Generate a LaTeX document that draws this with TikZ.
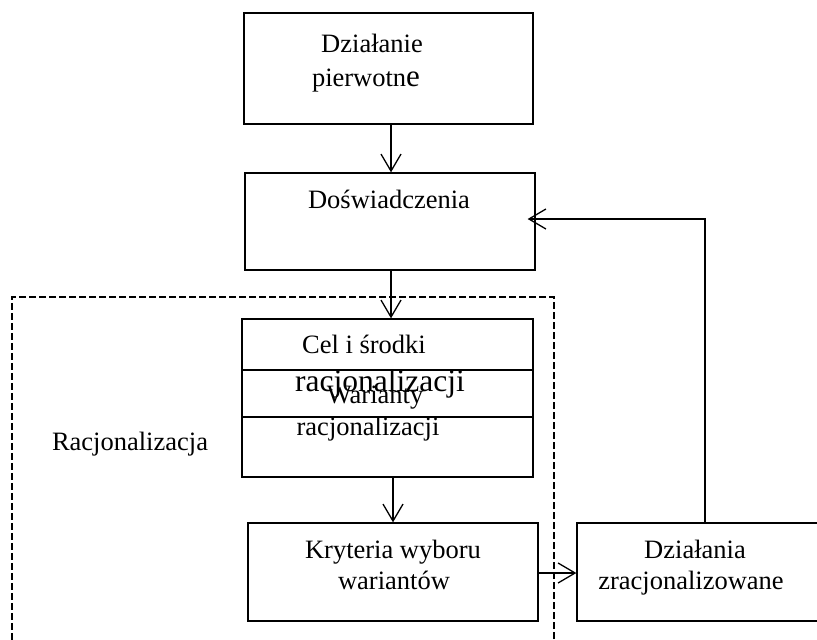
\documentclass[tikz,border=0pt]{standalone}
\usepackage{fontspec}
\setmainfont{Liberation Serif}
\usetikzlibrary{arrows.meta,calc}

\tikzset{
  box/.style={draw, line width=1.3pt, rectangle, inner sep=0pt},
  band/.style={draw, line width=1.8pt, rectangle, inner sep=0pt},
  label/.style={anchor=base, inner sep=0pt, font=\fontsize{26.5}{32}\selectfont},
  biglabel/.style={anchor=base, inner sep=0pt, font=\fontsize{31.5}{36}\selectfont},
  arr/.style={line width=1.3pt, -{Straight Barb[length=17pt,width=20pt,line width=1.3pt]}},
  frame/.style={draw, line width=1.5pt, dash pattern=on 7pt off 3pt, rectangle, inner sep=0pt}
}

\begin{document}
\begin{tikzpicture}[x=1pt,y=-1pt]
  \clip (0,0) rectangle (817,640);
  \fill[white] (0,0) rectangle (817,640);

  % dashed frame of the rationalisation stage (runs past the lower edge)
  \node[frame, minimum width=542pt, minimum height=380pt] (grp) at (283,487) {};

  % boxes
  \node[box, minimum width=289pt, minimum height=111pt] (b1) at (388.5,68.5) {};
  \node[box, minimum width=290pt, minimum height=97pt]  (b2) at (390,221.5) {};
  \node[box, minimum width=291pt, minimum height=158pt] (b3) at (387.5,398) {};
  \node[band, minimum width=291pt, minimum height=47pt] (bnd) at (387.5,393.5) {};
  \node[box, minimum width=290pt, minimum height=98pt]  (b4) at (393,572) {};
  \node[box, minimum width=260pt, minimum height=98pt]  (b5) at (707,572) {};

  % texts
  \node[label] (t1a) at (372,52) {Działanie};
  \node[label] (t1b) at (366,86) {pierwotn{\fontsize{31}{32}\selectfont e}};
  \node[label] (t2)  at (389,208) {Doświadczenia};
  \node[label] (t3a) at (364,353) {Cel i środki};
  \node[biglabel] (t3b) at (380,391) {racjonalizacji};
  \node[label] (t3c) at (375,403) {Warianty};
  \node[label] (t3d) at (368,435) {racjonalizacji};
  \node[label] (t4a) at (393,558) {Kryteria wyboru};
  \node[label] (t4b) at (394,589) {wariantów};
  \node[label] (t5a) at (695,558) {Działania};
  \node[label] (t5b) at (691,589) {zracjonalizowane};
  \node[label] (tr)  at (130,450) {Racjonalizacja};

  % connectors
  \draw[arr] ([xshift=2.5pt]b1.south) -- ([xshift=2.5pt]b1.south |- b2.north);
  \draw[arr] ([xshift=1pt]b2.south) -- ([xshift=1pt]b2.south |- b3.north);
  \draw[arr] ([xshift=5.5pt]b3.south) -- ([xshift=5.5pt]b3.south |- b4.north);
  \draw[arr] ([yshift=-1pt]b4.east) -- ([yshift=-1pt]b4.east -| b5.west);
  \coordinate (fbin) at ([xshift=-8pt,yshift=2.5pt]b2.east);
  \draw[arr] ([xshift=-2pt]b5.north) |- (fbin);
\end{tikzpicture}
\end{document}
